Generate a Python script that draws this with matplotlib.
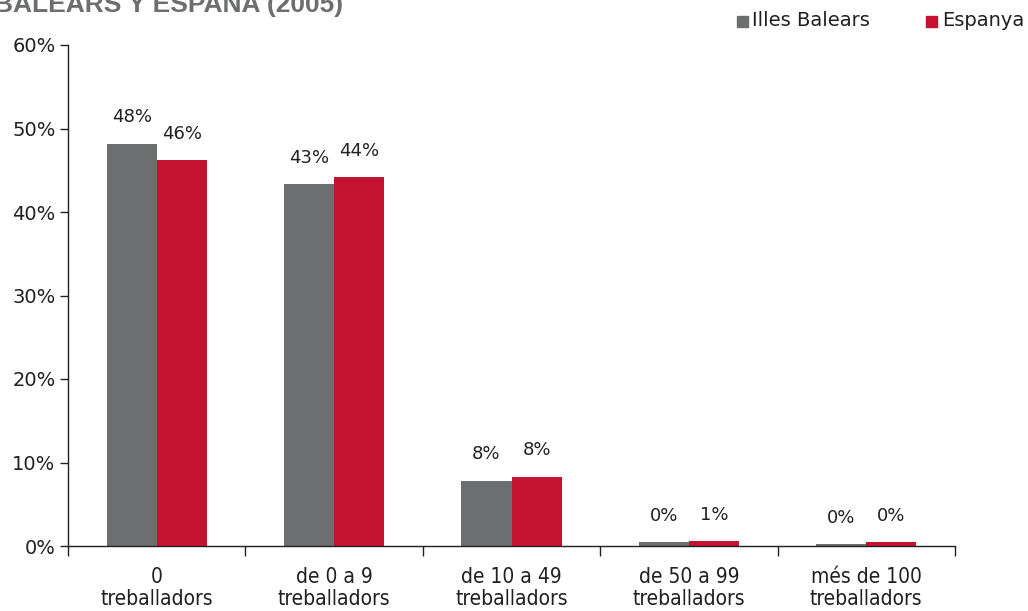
import matplotlib
matplotlib.use("Agg")
import matplotlib.pyplot as plt
import numpy as np
from matplotlib.ticker import FixedLocator, NullFormatter, PercentFormatter

categories = ["0\ntreballadors", "de 0 a 9\ntreballadors", "de 10 a 49\ntreballadors",
              "de 50 a 99\ntreballadors", "més de 100\ntreballadors"]
balears = [48.2, 43.3, 7.8, 0.45, 0.25]
espanya = [46.2, 44.2, 8.3, 0.6, 0.45]
series_names = ["Illes Balears", "Espanya"]
title = "BALEARS Y ESPAÑA (2005)"

GREY = "#6d6e70"
RED = "#c41230"
TXT = "#231f20"

W, H = 1028, 611
fig = plt.figure(figsize=(W / 100, H / 100), dpi=100)
ax = fig.add_axes([68 / W, (H - 546) / H, (955 - 68) / W, (546 - 45) / H])

x = np.arange(len(categories))
bw = 0.282
b1 = ax.bar(x - bw / 2, balears, bw, color=GREY, zorder=2)
b2 = ax.bar(x + bw / 2, espanya, bw, color=RED, zorder=2)

for bars, vals in ((b1, balears), (b2, espanya)):
    for rect, v in zip(bars, vals):
        ax.annotate(f"{v:.0f}%", (rect.get_x() + rect.get_width() / 2, v),
                    xytext=(0, 19), textcoords="offset points",
                    ha="center", va="center", fontsize=13, color=TXT)

ax.set_xlim(-0.5, len(categories) - 0.5)
ax.set_ylim(0, 60)
ax.yaxis.set_major_locator(FixedLocator(np.arange(0, 61, 10)))
ax.yaxis.set_major_formatter(PercentFormatter(decimals=0))
ax.tick_params(axis="y", direction="out", length=6, width=1, color=TXT,
               labelsize=14, labelcolor=TXT, pad=3)

ax.xaxis.set_major_locator(FixedLocator(np.arange(-0.5, len(categories), 1)))
ax.xaxis.set_major_formatter(NullFormatter())
ax.tick_params(axis="x", which="major", direction="out", length=7, width=1, color=TXT)
ax.set_xticks(x, minor=True)
ax.set_xticklabels(categories, minor=True, fontsize=15, color=TXT,
                   fontstretch="condensed", linespacing=1.12)
ax.tick_params(axis="x", which="minor", length=0, pad=15)

for s in ("top", "right"):
    ax.spines[s].set_visible(False)
for s in ("left", "bottom"):
    ax.spines[s].set_color(TXT)
    ax.spines[s].set_linewidth(1)

# Legend drawn as squares plus labels in the top-right corner
fig.patches.append(plt.Rectangle((737 / W, 1 - 27 / H), 11 / W, 11 / H,
                                 transform=fig.transFigure, color=GREY))
fig.text(752 / W, 1 - 21 / H, series_names[0], fontsize=14, color=TXT, va="center")
fig.patches.append(plt.Rectangle((926 / W, 1 - 27 / H), 11 / W, 11 / H,
                                 transform=fig.transFigure, color=RED))
fig.text(942 / W, 1 - 21 / H, series_names[1], fontsize=14, color=TXT, va="center")

fig.text(-6 / W, 1 - 12 / H, title, fontsize=19, fontweight="bold", color="#6d6e70",
         va="baseline", ha="left", family="Liberation Sans")

fig.savefig("out.png", dpi=100)
